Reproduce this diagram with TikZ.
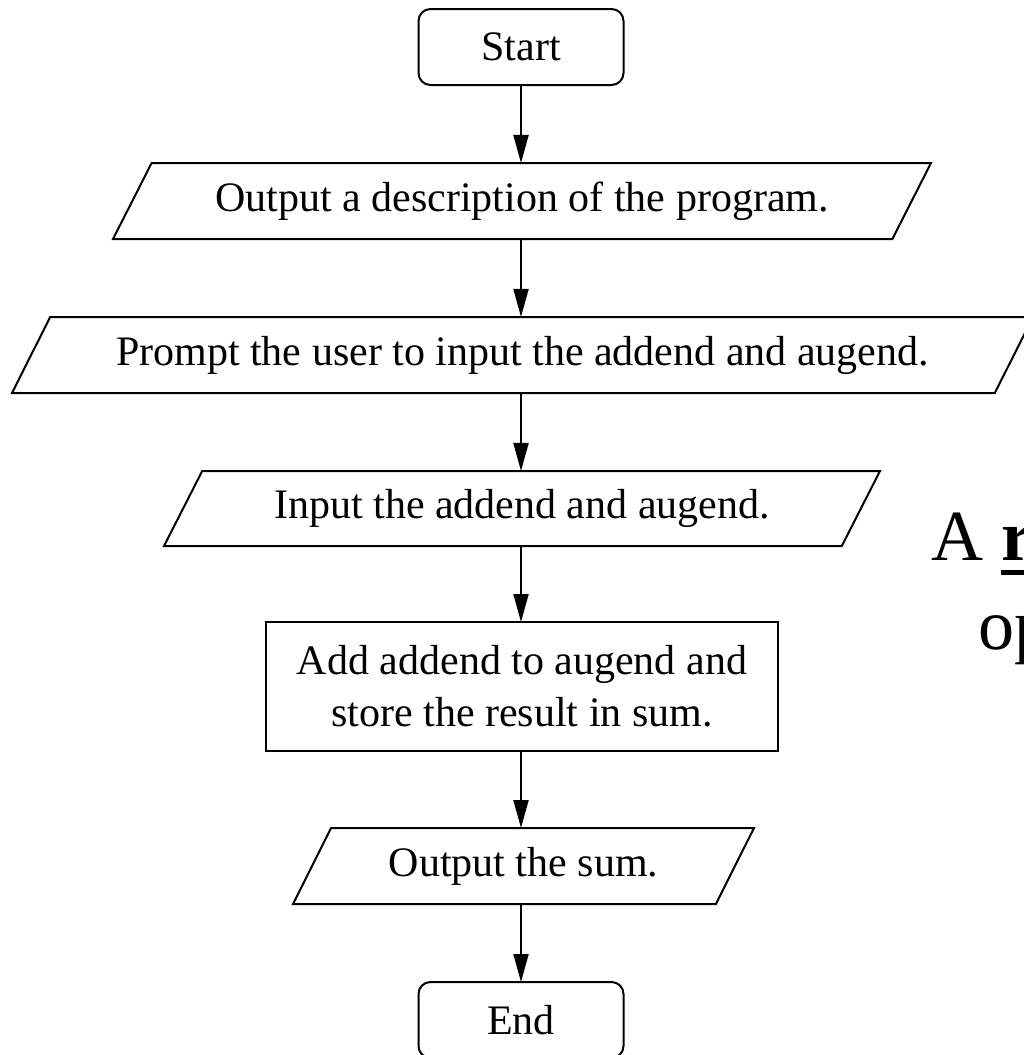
\documentclass[tikz,border=0pt]{standalone}
\usepackage{fontspec}
\setmainfont{Liberation Serif}
\usetikzlibrary{shapes.geometric,arrows.meta}
\begin{document}
\begin{tikzpicture}[x=1pt,y=-1pt,
  base/.style={draw=black, line width=2pt, font=\fontsize{42}{52}\selectfont, inner sep=0pt, outer sep=0pt},
  term/.style={base, rectangle, rounded corners=12pt, minimum width=205pt, minimum height=76pt},
  io/.style={base, trapezium, trapezium left angle=45, trapezium right angle=135, trapezium stretches body, minimum height=76pt},
  proc/.style={base, rectangle, minimum width=512pt, minimum height=129pt, align=center},
  flow/.style={line width=2pt, -{Triangle[length=28pt,width=15pt]}},
  side/.style={font=\fontsize{72}{86}\selectfont, inner sep=0pt, anchor=base west}
]
\useasboundingbox (0,0) rectangle (1024,1055);
\clip (0,0) rectangle (1024,1055);
\node[term] (start) at (521,47) {Start};
\node[io, minimum width=818pt] (p1) at (522,201) {Output a description of the program.};
\node[io, minimum width=1021pt] (p2) at (522.5,355) {Prompt the user to input the addend and augend.};
\node[io, minimum width=716pt, minimum height=75pt] (p3) at (522,508.5) {Input the addend and augend.};
\node[proc] (add) at (522,686.5) {Add addend to augend and\\store the result in sum.};
\node[io, minimum width=461pt] (p4) at (523.5,866) {Output the sum.};
\node[term] (end) at (521,1020) {End};
\draw[flow] (start.south) -- (start.south |- p1.north);
\draw[flow] (start.south |- p1.south) -- (start.south |- p2.north);
\draw[flow] (start.south |- p2.south) -- (start.south |- p3.north);
\draw[flow] (start.south |- p3.south) -- (start.south |- add.north);
\draw[flow] (start.south |- add.south) -- (start.south |- p4.north);
\draw[flow] (start.south |- p4.south) -- (end.north);
\node[side] (sideA) at (931,560) {A \rlap{\rule[-15pt]{40pt}{5pt}}\textbf{r}};
\node[side] (sideB) at (978,649) {op};
\end{tikzpicture}
\end{document}
